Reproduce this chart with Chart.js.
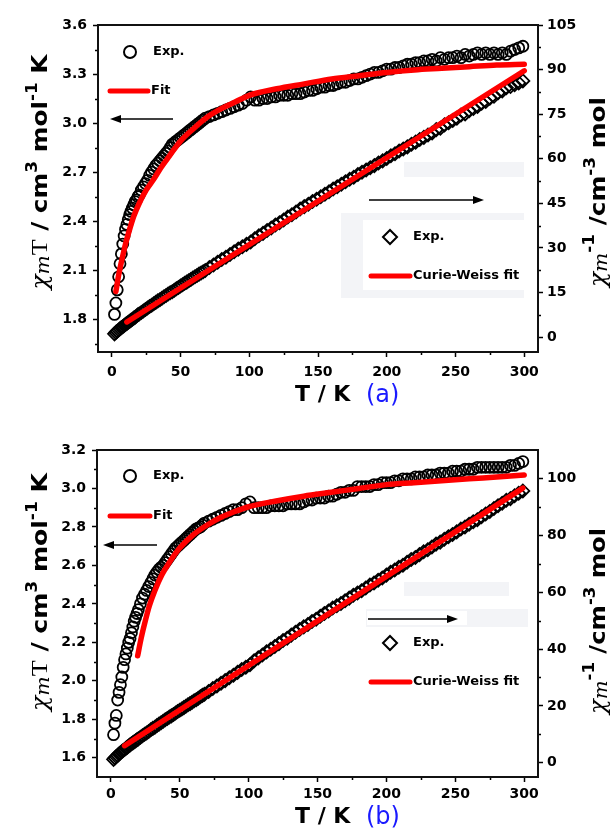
<!DOCTYPE html>
<html><head><meta charset="utf-8">
<script src="https://cdn.jsdelivr.net/npm/chart.js@4.4.1/dist/chart.umd.min.js"></script>
<style>
html,body{margin:0;padding:0;background:#fff;overflow:hidden;}
#wrap{position:relative;width:612px;height:838px;background:#fff;}
.panel{position:absolute;left:0;width:612px;height:419px;}
</style></head><body>
<div id="wrap">
<div class="panel" style="top:0"><canvas id="ca" width="612" height="419"></canvas></div>
<div class="panel" style="top:419px"><canvas id="cb" width="612" height="419"></canvas></div>
</div>
<script>
// ---------- DATA ----------
const temperature = [2,3,4,5,6,7,8,9,10,11,12,13,14,15,16,17,18,19,20,
 21.5,23,24.5,26,27.5,29,30.5,32,33.5,35,36.5,38,39.5,41,42.5,44,45.5,47,48.5,50,
 51.5,53,54.5,56,57.5,59,60.5,62,63.5,65,66.5,68,
 71,74,77,80,83,86,89,92,95,98,
 101,104,107,110,113,116,119,122,125,128,131,134,137,140,
 143,146,149,152,155,158,161,164,167,170,173,176,179,182,
 185,188,191,194,197,200,203,206,209,212,215,218,221,224,
 227,230,233,236,239,242,245,248,251,254,257,260,263,266,
 269,272,275,278,281,284,287,290,293,296,299];

// panel (a)
const chiTA = [1.83,1.90,1.98,2.06,2.14,2.20,2.26,2.31,2.35,2.38,2.41,2.44,2.46,2.48,2.50,2.52,2.53,2.55,2.56,
 2.59,2.61,2.63,2.65,2.68,2.70,2.72,2.74,2.755,2.77,2.785,2.80,2.815,2.83,2.85,2.87,2.88,2.89,2.90,2.91,
 2.92,2.93,2.94,2.95,2.96,2.97,2.98,2.99,3.00,3.01,3.02,3.03,
 3.04,3.05,3.06,3.07,3.08,3.09,3.10,3.11,3.12,3.14,
 3.16,3.14,3.14,3.15,3.15,3.16,3.16,3.17,3.17,3.17,3.18,3.18,3.18,3.19,
 3.20,3.20,3.21,3.22,3.22,3.23,3.23,3.24,3.25,3.25,3.26,3.27,3.27,3.28,
 3.29,3.30,3.31,3.31,3.32,3.33,3.33,3.34,3.34,3.35,3.36,3.36,3.37,3.37,
 3.38,3.38,3.39,3.38,3.40,3.39,3.40,3.40,3.41,3.40,3.42,3.41,3.42,3.43,
 3.42,3.43,3.42,3.43,3.42,3.43,3.42,3.44,3.45,3.46,3.47];
const invChiA = [1.1,1.6,2.0,2.4,2.8,3.2,3.5,3.9,4.3,4.6,5.0,5.3,5.7,6.0,6.4,6.7,7.1,7.5,7.8,
 8.3,8.8,9.3,9.8,10.3,10.7,11.2,11.7,12.2,12.6,13.1,13.6,14.0,14.5,14.9,15.3,15.8,16.3,16.7,17.2,
 17.6,18.1,18.5,19.0,19.4,19.9,20.3,20.7,21.2,21.6,22.0,22.4,
 23.4,24.3,25.2,26.1,26.9,27.8,28.7,29.6,30.4,31.2,
 32.0,33.1,34.1,34.9,35.9,36.7,37.7,38.5,39.4,40.4,41.2,42.1,43.1,43.9,
 44.7,45.6,46.4,47.2,48.1,48.9,49.8,50.6,51.4,52.3,53.1,53.8,54.7,55.5,
 56.2,57.0,57.7,58.6,59.3,60.1,61.0,61.7,62.6,63.3,64.0,64.9,65.6,66.5,
 67.2,68.0,68.7,69.8,70.3,71.4,72.1,72.9,73.6,74.7,75.1,76.2,76.9,77.6,
 78.7,79.3,80.4,81.0,82.2,82.8,83.9,84.3,84.9,85.5,86.2];
const fitTempA = [3,5,7,10,13,16,20,25,30,36,42,50,60,70,80,90,100,120,140,160,180,200,220,240,260,280,300];
const fitChiTA = [1.97,2.07,2.15,2.26,2.35,2.43,2.51,2.59,2.65,2.73,2.80,2.89,2.97,3.04,3.09,3.13,3.17,3.21,3.24,3.27,3.29,3.31,3.325,3.335,3.345,3.355,3.36];
const cwTempA = [11,300];
const cwInvChiA = [5.1,89.6];

// panel (b)
const chiTB = [1.72,1.78,1.82,1.90,1.94,1.98,2.02,2.07,2.11,2.14,2.17,2.20,2.22,2.25,2.28,2.31,2.33,2.35,2.37,
 2.40,2.43,2.45,2.47,2.49,2.51,2.53,2.55,2.565,2.58,2.59,2.60,2.615,2.63,2.645,2.66,2.675,2.69,2.70,2.71,
 2.72,2.73,2.74,2.75,2.76,2.77,2.78,2.79,2.795,2.80,2.81,2.82,
 2.83,2.84,2.85,2.86,2.87,2.88,2.89,2.89,2.90,2.92,
 2.93,2.90,2.90,2.90,2.90,2.91,2.91,2.91,2.91,2.92,2.92,2.92,2.92,2.93,
 2.94,2.94,2.95,2.95,2.95,2.96,2.96,2.97,2.98,2.98,2.99,2.99,3.01,3.01,
 3.01,3.01,3.02,3.02,3.03,3.03,3.03,3.04,3.04,3.05,3.05,3.05,3.06,3.06,
 3.06,3.07,3.07,3.07,3.08,3.08,3.08,3.09,3.09,3.09,3.10,3.10,3.10,3.11,
 3.11,3.11,3.11,3.11,3.11,3.11,3.11,3.12,3.12,3.13,3.14];
const invChiB = [1.2,1.7,2.2,2.6,3.1,3.5,4.0,4.3,4.7,5.1,5.5,5.9,6.3,6.7,7.0,7.4,7.7,8.1,8.4,
 9.0,9.5,10.0,10.5,11.0,11.6,12.1,12.5,13.1,13.6,14.1,14.6,15.1,15.6,16.1,16.5,17.0,17.5,18.0,18.5,
 18.9,19.4,19.9,20.4,20.8,21.3,21.8,22.2,22.7,23.2,23.7,24.1,
 25.1,26.1,27.0,28.0,28.9,29.9,30.8,31.8,32.8,33.6,
 34.5,35.9,36.9,37.9,39.0,39.9,40.9,41.9,43.0,43.8,44.9,45.9,46.9,47.8,
 48.6,49.7,50.5,51.5,52.5,53.4,54.4,55.2,56.0,57.0,57.9,58.9,59.7,60.5,
 61.5,62.5,63.2,64.2,65.0,66.0,67.0,67.8,68.8,69.5,70.5,71.5,72.2,73.2,
 74.2,74.9,75.9,76.9,77.6,78.6,79.5,80.3,81.2,82.2,82.9,83.9,84.8,85.5,
 86.5,87.5,88.4,89.4,90.4,91.3,92.3,92.9,93.9,94.8,95.6];
const fitTempB = [19.5,22,25,28,32,37,42,50,60,70,80,90,100,120,140,160,180,200,220,240,260,280,300];
const fitChiTB = [2.13,2.22,2.31,2.39,2.47,2.55,2.61,2.69,2.76,2.81,2.85,2.88,2.905,2.935,2.96,2.98,3.00,3.02,3.03,3.04,3.05,3.06,3.07];
const cwTempB = [10,299];
const cwInvChiB = [6.0,96.6];

// tick labels
const xTickValues = [0,50,100,150,200,250,300];
const xMinorValues = [25,75,125,175,225,275];
const leftTicksA = [1.8,2.1,2.4,2.7,3.0,3.3,3.6];
const leftMinorA = [1.65,1.95,2.25,2.55,2.85,3.15,3.45];
const rightTicksA = [0,15,30,45,60,75,90,105];
const rightMinorA = [7.5,22.5,37.5,52.5,67.5,82.5,97.5];
const leftTicksB = [1.6,1.8,2.0,2.2,2.4,2.6,2.8,3.0,3.2];
const leftMinorB = [1.7,1.9,2.1,2.3,2.5,2.7,2.9,3.1];
const rightTicksB = [0,20,40,60,80,100];
const rightMinorB = [10,30,50,70,90];

// ---------- DRAWING HELPERS ----------
const SANS = '"DejaVu Sans"';
const SERIF = '"DejaVu Serif"';
const tickFont = {family:'DejaVu Sans', size:14, weight:'bold'};

function pts(xs, ys){ return xs.map((x,i)=>({x:x, y:ys[i]})); }

function drawRich(ctx, segs, cx, cy, angle, target){
  let total = 0; const ws = [];
  segs.forEach(s=>{ ctx.font = s.f; const w = ctx.measureText(s.t).width; ws.push(w); total += w; });
  ctx.save();
  ctx.translate(cx, cy); ctx.rotate(angle);
  const k = target ? target/total : 1;
  ctx.scale(k, 1);
  ctx.textAlign = 'left'; ctx.textBaseline = 'alphabetic';
  let x = -total/2;
  segs.forEach((s,i)=>{ ctx.font = s.f; ctx.fillStyle = s.c || '#000'; ctx.fillText(s.t, x, s.dy||0); x += ws[i]; });
  ctx.restore();
}
function arrow(ctx, x1, y, x2){
  const dir = Math.sign(x2-x1);
  ctx.save();
  ctx.strokeStyle = '#000'; ctx.fillStyle = '#000'; ctx.lineWidth = 1.5;
  ctx.beginPath(); ctx.moveTo(x1, y); ctx.lineTo(x2 - dir*8, y); ctx.stroke();
  ctx.beginPath(); ctx.moveTo(x2, y); ctx.lineTo(x2 - dir*11, y-4); ctx.lineTo(x2 - dir*11, y+4); ctx.closePath(); ctx.fill();
  ctx.restore();
}

function leftTitle(){
  return [
    {t:'\u03C7', f:'italic 22px '+SERIF},
    {t:'m', f:'italic 18px '+SERIF, dy:2},
    {t:'T', f:'23px "Liberation Serif"'},
    {t:' / cm', f:'bold 22px '+SANS},
    {t:'3', f:'bold 15px '+SANS, dy:-10},
    {t:' mol', f:'bold 22px '+SANS},
    {t:'-1', f:'bold 15px '+SANS, dy:-10},
    {t:' K', f:'bold 22px '+SANS}
  ];
}
function rightTitle(){
  return [
    {t:'\u03C7', f:'italic 22px '+SERIF},
    {t:'m', f:'italic 18px '+SERIF, dy:2},
    {t:'-1', f:'bold 15px '+SANS, dy:-11},
    {t:' /cm', f:'bold 22px '+SANS},
    {t:'-3', f:'bold 15px '+SANS, dy:-10},
    {t:' mol', f:'bold 22px '+SANS}
  ];
}

function decorPlugin(cfg){
  return {
    id:'decor',
    beforeDatasetsDraw(chart){
      const ctx = chart.ctx; ctx.save();
      cfg.boxes.forEach(b=>{ ctx.fillStyle = b.c; ctx.fillRect(b.x, b.y, b.w, b.h); });
      ctx.restore();
    },
    afterDraw(chart){
      const ctx = chart.ctx, a = chart.chartArea, s = chart.scales;
      ctx.save();
      // minor ticks
      ctx.strokeStyle = '#000'; ctx.lineWidth = 1.5;
      ctx.beginPath();
      xMinorValues.forEach(v=>{ const p = Math.round(s.x.getPixelForValue(v))+0.5; ctx.moveTo(p, a.bottom); ctx.lineTo(p, a.bottom+3); });
      cfg.leftMinor.forEach(v=>{ const p = Math.round(s.yL.getPixelForValue(v))+0.5; ctx.moveTo(a.left, p); ctx.lineTo(a.left-3, p); });
      cfg.rightMinor.forEach(v=>{ const p = Math.round(s.yR.getPixelForValue(v))+0.5; ctx.moveTo(a.right, p); ctx.lineTo(a.right+3, p); });
      ctx.stroke();
      // frame
      ctx.strokeStyle = '#111'; ctx.lineWidth = 2;
      ctx.strokeRect(a.left, a.top, a.right-a.left, a.bottom-a.top);

      // legend, upper left
      const L = cfg.legL;
      ctx.lineWidth = 2; ctx.strokeStyle = '#000'; ctx.fillStyle = '#fff';
      ctx.beginPath(); ctx.arc(L.cx, L.cy, 6, 0, Math.PI*2); ctx.fill(); ctx.stroke();
      ctx.strokeStyle = '#ff0000'; ctx.lineWidth = 5; ctx.lineCap = 'round';
      ctx.beginPath(); ctx.moveTo(L.lx1, L.ly); ctx.lineTo(L.lx2, L.ly); ctx.stroke();
      ctx.lineCap = 'butt';
      ctx.fillStyle = '#000'; ctx.font = 'bold 13px '+SANS; ctx.textBaseline = 'middle'; ctx.textAlign = 'left';
      ctx.fillText('Exp.', L.tx, L.cy);
      ctx.fillText('Fit', L.ftx, L.ly);
      arrow(ctx, L.ax1, L.ay, L.ax2);

      // legend, right
      const R = cfg.legR;
      arrow(ctx, R.ax1, R.ay, R.ax2);
      ctx.lineWidth = 2; ctx.strokeStyle = '#000'; ctx.fillStyle = '#fff';
      ctx.beginPath(); ctx.moveTo(R.dx-7, R.dy); ctx.lineTo(R.dx, R.dy-7); ctx.lineTo(R.dx+7, R.dy); ctx.lineTo(R.dx, R.dy+7); ctx.closePath(); ctx.fill(); ctx.stroke();
      ctx.strokeStyle = '#ff0000'; ctx.lineWidth = 5; ctx.lineCap = 'round';
      ctx.beginPath(); ctx.moveTo(R.lx1, R.ly); ctx.lineTo(R.lx2, R.ly); ctx.stroke();
      ctx.lineCap = 'butt';
      ctx.fillStyle = '#000'; ctx.font = 'bold 13px '+SANS; ctx.textBaseline = 'middle';
      ctx.fillText('Exp.', R.tx, R.dy);
      ctx.fillText('Curie-Weiss fit', R.tx, R.ly);

      // axis titles
      drawRich(ctx, leftTitle(), cfg.lt.x, cfg.lt.y, -Math.PI/2, cfg.lt.len);
      drawRich(ctx, rightTitle(), cfg.rt.x, cfg.rt.y, -Math.PI/2, cfg.rt.len);
      ctx.textBaseline = 'alphabetic'; ctx.textAlign = 'left';
      ctx.fillStyle = '#000'; ctx.font = 'bold 22px '+SANS;
      ctx.fillText('T / K', cfg.bt.x, cfg.bt.y);
      ctx.fillStyle = '#1a1aff'; ctx.font = '24px '+SANS;
      ctx.fillText(cfg.tag, cfg.bt.tx, cfg.bt.y+1);
      ctx.restore();
    }
  };
}

function makeChart(id, o){
  const ctx = document.getElementById(id).getContext('2d');
  const gridOpt = {drawOnChartArea:false, drawTicks:true, tickLength:5, tickWidth:1.5, tickColor:'#000'};
  return new Chart(ctx, {
    type:'scatter',
    data:{ datasets:[
      {label:'fitT', data:pts(o.fitT, o.fitV), yAxisID:'yL', showLine:true, borderColor:'#ff0000', borderWidth:5.5,
       pointRadius:0, cubicInterpolationMode:'monotone', borderCapStyle:'round', order:1},
      {label:'cw', data:pts(o.cwT, o.cwV), yAxisID:'yR', showLine:true, borderColor:'#ff0000', borderWidth:5.5,
       pointRadius:0, borderCapStyle:'round', order:1},
      {label:'chiT', data:pts(temperature, o.chiT).reverse(), yAxisID:'yL', showLine:false, pointStyle:'circle',
       pointRadius:5.5, pointBorderWidth:1.8, pointBorderColor:'#000', pointBackgroundColor:'rgba(255,255,255,0)', order:2},
      {label:'inv', data:pts(temperature, o.inv).reverse(), yAxisID:'yR', showLine:false, pointStyle:'rectRot',
       pointRadius:6.5, pointBorderWidth:1.8, pointBorderColor:'#000', pointBackgroundColor:'rgba(255,255,255,0)', order:3}
    ]},
    options:{
      responsive:false, animation:false, devicePixelRatio:1,
      layout:{padding:{top:o.top, left:0, right:0, bottom:0}},
      plugins:{legend:{display:false}, tooltip:{enabled:false}},
      scales:{
        x:{type:'linear', position:'bottom', min:-10, max:310,
           afterBuildTicks:(s)=>{ s.ticks = xTickValues.map(v=>({value:v})); },
           afterFit:(s)=>{ s.height = o.xh; },
           grid:gridOpt, border:{display:false},
           ticks:{color:'#000', font:tickFont, padding:o.xpad, maxRotation:0, autoSkip:false, callback:(v)=>String(v)}},
        yL:{type:'linear', position:'left', min:o.lmin, max:o.lmax,
           afterBuildTicks:(s)=>{ s.ticks = o.lt.map(v=>({value:v})); },
           afterFit:(s)=>{ s.width = o.lw; },
           grid:gridOpt, border:{display:false},
           ticks:{color:'#000', font:tickFont, padding:6, autoSkip:false, callback:(v)=>v.toFixed(1)}},
        yR:{type:'linear', position:'right', min:o.rmin, max:o.rmax,
           afterBuildTicks:(s)=>{ s.ticks = o.rt.map(v=>({value:v})); },
           afterFit:(s)=>{ s.width = 74; },
           grid:gridOpt, border:{display:false},
           ticks:{color:'#000', font:tickFont, padding:4, autoSkip:false, callback:(v)=>String(v)}}
      }
    },
    plugins:[decorPlugin(o.decor)]
  });
}

makeChart('ca', {
  fitT:fitTempA, fitV:fitChiTA, cwT:cwTempA, cwV:cwInvChiA, chiT:chiTA, inv:invChiA,
  top:25, xh:67, xpad:7, lw:98, lmin:1.6, lmax:3.6, lt:leftTicksA, rmin:-5, rmax:105, rt:rightTicksA,
  decor:{
    leftMinor:leftMinorA, rightMinor:rightMinorA,
    boxes:[{x:404,y:162,w:120,h:15,c:'#f3f4f7'},{x:341,y:213,w:183,h:85,c:'#f3f4f7'},{x:363,y:220,w:161,h:70,c:'#ffffff'}],
    legL:{cx:130, cy:52, tx:153, lx1:110, lx2:148, ly:91, ftx:151, ax1:173, ax2:110, ay:119},
    legR:{ax1:369, ax2:484, ay:200, dx:390, dy:237, tx:413, lx1:371, lx2:410, ly:276},
    lt:{x:47, y:172, len:235}, rt:{x:605, y:192, len:190},
    bt:{x:295, y:401, tx:366}, tag:'(a)'
  }
});
makeChart('cb', {
  fitT:fitTempB, fitV:fitChiTB, cwT:cwTempB, cwV:cwInvChiB, chiT:chiTB, inv:invChiB,
  top:31, xh:61, xpad:4, lw:97, lmin:1.5, lmax:3.2, lt:leftTicksB, rmin:-5, rmax:110, rt:rightTicksB,
  decor:{
    leftMinor:leftMinorB, rightMinor:rightMinorB,
    boxes:[{x:404,y:163,w:105,h:14,c:'#f3f4f7'},{x:366,y:190,w:162,h:18,c:'#f3f4f7'},{x:367,y:192,w:100,h:14,c:'#ffffff'}],
    legL:{cx:130, cy:57, tx:153, lx1:110, lx2:150, ly:97, ftx:153, ax1:157, ax2:103, ay:126},
    legR:{ax1:368, ax2:458, ay:200, dx:390, dy:224, tx:413, lx1:371, lx2:410, ly:263},
    lt:{x:47, y:173, len:238}, rt:{x:605, y:202, len:186},
    bt:{x:295, y:404, tx:366}, tag:'(b)'
  }
});
</script>
</body></html>
